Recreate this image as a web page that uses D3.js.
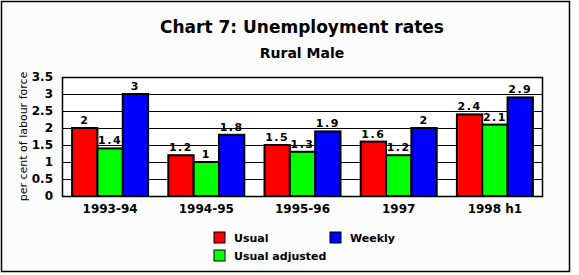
<!DOCTYPE html>
<html>
<head>
<meta charset="utf-8">
<script src="https://cdn.jsdelivr.net/npm/d3@7"></script>
<style>
  body { margin: 0; background: #fff; }
  text { font-family: "DejaVu Sans", sans-serif; }
</style>
</head>
<body>
<svg id="chart" width="579" height="275"></svg>
<script>
const periods = ["1993-94", "1994-95", "1995-96", "1997", "1998 h1"];
const seriesNames = ["Usual", "Usual adjusted", "Weekly"];
const usual = [2, 1.2, 1.5, 1.6, 2.4];
const usualAdjusted = [1.4, 1, 1.3, 1.2, 2.1];
const weekly = [3, 1.8, 1.9, 2, 2.9];
const yTicks = [0, 0.5, 1, 1.5, 2, 2.5, 3, 3.5];
const colors = ["#ff0000", "#00ff00", "#0000ff"];

const series = [usual, usualAdjusted, weekly];
const svg = d3.select("#chart");

// outer frame
svg.append("rect").attr("x", 1.5).attr("y", 1.5).attr("width", 568).attr("height", 270)
  .attr("fill", "#fcfcfc").attr("stroke", "#000").attr("stroke-width", 1.5);

svg.append("text").attr("x", 302).attr("y", 33).attr("text-anchor", "middle")
  .attr("font-size", 17).attr("font-weight", "bold").text("Chart 7: Unemployment rates");
svg.append("text").attr("x", 302).attr("y", 58).attr("text-anchor", "middle")
  .attr("font-size", 14).attr("font-weight", "bold").text("Rural Male");

const margin = { left: 62, top: 77, right: 543, bottom: 196 };
const x = d3.scaleBand().domain(periods).range([margin.left, margin.right]).paddingInner(0.21).paddingOuter(0.105);
const xs = d3.scaleBand().domain(d3.range(3)).range([0, x.bandwidth()]);
const y = d3.scaleLinear().domain([0, 3.5]).range([margin.bottom, margin.top]);

const plot = svg.append("g");
plot.append("rect").attr("x", margin.left).attr("y", margin.top)
  .attr("width", margin.right - margin.left).attr("height", margin.bottom - margin.top)
  .attr("fill", "#fff");

// gridlines
plot.selectAll("line.grid").data(yTicks).join("line").attr("class", "grid")
  .attr("x1", margin.left).attr("x2", margin.right)
  .attr("y1", d => Math.round(y(d)) + 0.5).attr("y2", d => Math.round(y(d)) + 0.5)
  .attr("stroke", "#000").attr("stroke-width", 1);

const groups = plot.selectAll("g.period").data(periods).join("g")
  .attr("transform", d => `translate(${x(d)},0)`);

groups.selectAll("rect").data((p, i) => series.map((s, k) => ({ k, v: s[i] }))).join("rect")
  .attr("x", d => xs(d.k)).attr("y", d => y(d.v))
  .attr("width", xs.bandwidth()).attr("height", d => y(0) - y(d.v))
  .attr("fill", d => colors[d.k]).attr("stroke", "#000").attr("stroke-width", 2);

groups.selectAll("text").data((p, i) => series.map((s, k) => ({ k, v: s[i] }))).join("text")
  .attr("x", d => xs(d.k) + xs.bandwidth() / 2).attr("y", d => y(d.v) - 4)
  .attr("text-anchor", "middle").attr("font-size", 11).attr("font-weight", "bold")
  .attr("font-family", "'DejaVu Sans Mono', monospace").attr("letter-spacing", 1.5)
  .text(d => String(d.v));

// plot border
plot.append("rect").attr("x", margin.left + 0.5).attr("y", margin.top + 0.5)
  .attr("width", margin.right - margin.left - 1).attr("height", margin.bottom - margin.top)
  .attr("fill", "none").attr("stroke", "#000").attr("stroke-width", 1.5);

// y axis
const yAxis = d3.axisLeft(y).tickValues(yTicks).tickSize(0).tickPadding(9).tickFormat(d => String(d));
svg.append("g").attr("transform", `translate(${margin.left},0)`).call(yAxis)
  .call(g => g.select(".domain").remove())
  .call(g => g.selectAll("text").attr("font-size", 12).attr("font-weight", "bold")
    .attr("font-family", "'DejaVu Sans', sans-serif").attr("fill", "#000"));

// x axis
const xAxis = d3.axisBottom(x).tickSize(0).tickPadding(8);
svg.append("g").attr("transform", `translate(0,${margin.bottom})`).call(xAxis)
  .call(g => g.select(".domain").remove())
  .call(g => g.selectAll("text").attr("font-size", 12).attr("font-weight", "bold")
    .attr("font-family", "'Liberation Sans', Arial, sans-serif").attr("fill", "#000"));

svg.append("text").attr("transform", `translate(27,${(margin.top + margin.bottom) / 2}) rotate(-90)`)
  .attr("text-anchor", "middle").attr("font-size", 11).text("per cent of labour force");

// legend
const legendPos = [[214, 232], [214, 250], [330, 232]];
const legend = svg.selectAll("g.legend").data(seriesNames).join("g")
  .attr("transform", (d, i) => `translate(${legendPos[i][0]},${legendPos[i][1]})`);
legend.append("rect").attr("width", 11).attr("height", 11)
  .attr("fill", (d, i) => colors[i]).attr("stroke", "#000").attr("stroke-width", 1);
legend.append("text").attr("x", 20).attr("y", 10).attr("font-size", 11).attr("font-weight", "bold")
  .text(d => d);
</script>
</body>
</html>
